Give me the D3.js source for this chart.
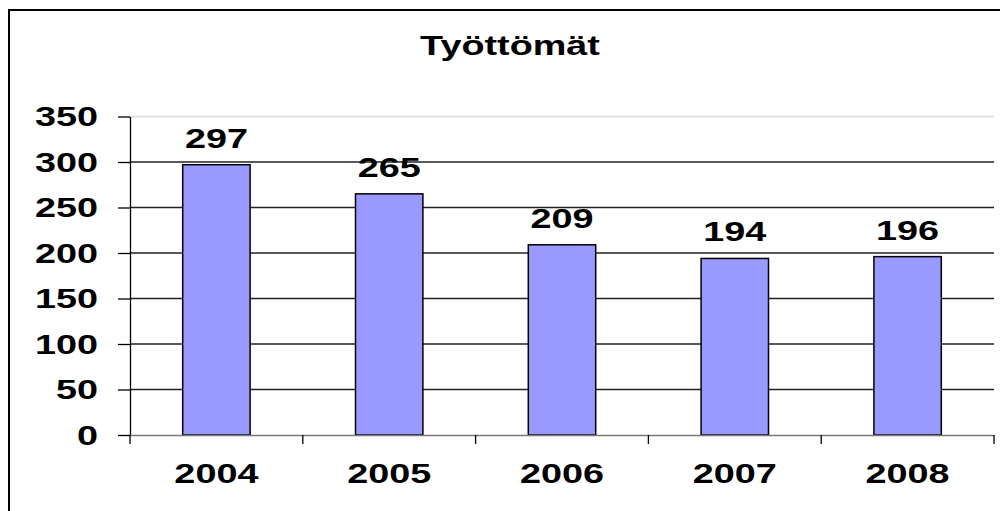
<!DOCTYPE html>
<html>
<head>
<meta charset="utf-8">
<script src="https://cdn.jsdelivr.net/npm/d3@7"></script>
<style>
body { margin: 0; background: #fff; }
svg { display: block; }
text { font-family: "Liberation Sans", Arial, sans-serif; font-weight: bold; fill: #000; }
</style>
</head>
<body>
<svg id="chart"></svg>
<script>
var years = ["2004", "2005", "2006", "2007", "2008"];
var values = [297, 265, 209, 194, 196];
var yTicks = [0, 50, 100, 150, 200, 250, 300, 350];
var title = "Työttömät";

var width = 1000, height = 511;
var margin = ({top: 116.5, right: 6, bottom: 76, left: 130});
// text in the source image is stretched sideways
var stretch = 1.35;

var svg = d3.select("#chart").attr("width", width).attr("height", height);

// outer frame (only left and top edges are in view)
svg.append("rect")
.attr("x", 9).attr("y", 10)
.attr("width", width + 20).attr("height", height + 20)
.attr("fill", "none")
.attr("stroke", "#000")
.attr("stroke-width", 2);

var x = d3.scaleBand()
.domain(years)
.range([margin.left, width - margin.right])
.paddingInner(0.61)
.paddingOuter(0.305);

var xTicks = d3.scaleBand()
.domain(years)
.range([margin.left, width - margin.right]);

var y = d3.scaleLinear()
.domain([0, 350])
.range([height - margin.bottom, margin.top]);

function label(g, tx, ty, str, anchor) {
g.append("g")
.attr("transform", `translate(${tx},${ty}) scale(${stretch},1)`)
.append("text")
.attr("text-anchor", anchor)
.attr("font-size", 28)
.text(str);
}

// gridlines
svg.append("g")
.selectAll("line")
.data(yTicks.filter(d => d > 0))
.join("line")
.attr("x1", margin.left)
.attr("x2", width - margin.right)
.attr("y1", d => y(d))
.attr("y2", d => y(d))
.attr("stroke", d => d == 350 ? "#d8d8d8" : "#222")
.attr("stroke-width", 1.3);

// y axis
svg.append("g")
.attr("transform", `translate(${margin.left},0)`)
.call(d3.axisLeft(y).tickValues(yTicks).tickSize(12).tickSizeOuter(0).tickFormat(""))
.call(g => g.selectAll("line, path").attr("stroke", "#000").attr("stroke-width", 1.3));

yTicks.forEach(d => label(svg, 98, y(d) + 9.5, d, "end"));

// bars
svg.append("g")
.selectAll("rect")
.data(values)
.join("rect")
.attr("x", (d, i) => x(years[i]))
.attr("y", d => y(d))
.attr("width", x.bandwidth())
.attr("height", d => y(0) - y(d))
.attr("fill", "#9999ff")
.attr("stroke", "#000")
.attr("stroke-width", 1.5);

// x axis
svg.append("g")
.attr("transform", `translate(0,${y(0)})`)
.call(d3.axisBottom(xTicks).tickValues([]).tickSizeOuter(0))
.call(g => g.select(".domain").attr("stroke", "#777").attr("stroke-width", 1.5));

svg.append("g")
.selectAll("line")
.data([margin.left].concat(years.map(d => xTicks(d) + xTicks.bandwidth())))
.join("line")
.attr("x1", d => d).attr("x2", d => d)
.attr("y1", y(0)).attr("y2", y(0) + 9)
.attr("stroke", "#000")
.attr("stroke-width", 1.3);

years.forEach(d => label(svg, xTicks(d) + xTicks.bandwidth() / 2, 483, d, "middle"));

// value labels
values.forEach((v, i) => label(svg, x(years[i]) + x.bandwidth() / 2, y(v) - 17, v, "middle"));

label(svg, 510, 55, title, "middle");
</script>
</body>
</html>
